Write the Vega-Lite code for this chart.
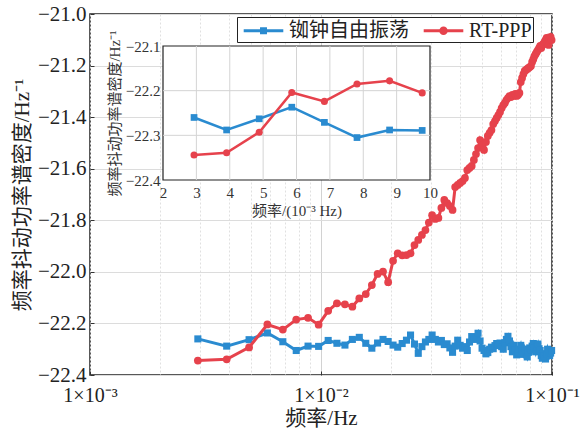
{
  "$schema": "https://vega.github.io/schema/vega-lite/v6.json",
  "width": 462,
  "height": 361,
  "autosize": {"type": "none"},
  "padding": {"left": 90, "top": 14, "right": 32, "bottom": 54},
  "background": "white",
  "config": {
    "view": {"stroke": "#222", "strokeWidth": 1.5},
    "font": "Liberation Serif"
  },
  "datasets": {
    "psd": [
      {"f": 0.00293, "s": "铷钟自由振荡", "v": -22.260},
      {"f": 0.003906, "s": "铷钟自由振荡", "v": -22.288},
      {"f": 0.004883, "s": "铷钟自由振荡", "v": -22.263},
      {"f": 0.005859, "s": "铷钟自由振荡", "v": -22.237},
      {"f": 0.006836, "s": "铷钟自由振荡", "v": -22.271},
      {"f": 0.007813, "s": "铷钟自由振荡", "v": -22.305},
      {"f": 0.008789, "s": "铷钟自由振荡", "v": -22.288},
      {"f": 0.009766, "s": "铷钟自由振荡", "v": -22.289},
      {"f": 0.010742, "s": "铷钟自由振荡", "v": -22.266},
      {"f": 0.011719, "s": "铷钟自由振荡", "v": -22.277},
      {"f": 0.012695, "s": "铷钟自由振荡", "v": -22.284},
      {"f": 0.013672, "s": "铷钟自由振荡", "v": -22.262},
      {"f": 0.014648, "s": "铷钟自由振荡", "v": -22.254},
      {"f": 0.015625, "s": "铷钟自由振荡", "v": -22.277},
      {"f": 0.016602, "s": "铷钟自由振荡", "v": -22.296},
      {"f": 0.017578, "s": "铷钟自由振荡", "v": -22.276},
      {"f": 0.018555, "s": "铷钟自由振荡", "v": -22.262},
      {"f": 0.019531, "s": "铷钟自由振荡", "v": -22.270},
      {"f": 0.020508, "s": "铷钟自由振荡", "v": -22.284},
      {"f": 0.021484, "s": "铷钟自由振荡", "v": -22.292},
      {"f": 0.022461, "s": "铷钟自由振荡", "v": -22.278},
      {"f": 0.023438, "s": "铷钟自由振荡", "v": -22.265},
      {"f": 0.024414, "s": "铷钟自由振荡", "v": -22.245},
      {"f": 0.025391, "s": "铷钟自由振荡", "v": -22.280},
      {"f": 0.026367, "s": "铷钟自由振荡", "v": -22.316},
      {"f": 0.027344, "s": "铷钟自由振荡", "v": -22.290},
      {"f": 0.02832, "s": "铷钟自由振荡", "v": -22.272},
      {"f": 0.029297, "s": "铷钟自由振荡", "v": -22.262},
      {"f": 0.030273, "s": "铷钟自由振荡", "v": -22.245},
      {"f": 0.03125, "s": "铷钟自由振荡", "v": -22.262},
      {"f": 0.032227, "s": "铷钟自由振荡", "v": -22.272},
      {"f": 0.033203, "s": "铷钟自由振荡", "v": -22.266},
      {"f": 0.03418, "s": "铷钟自由振荡", "v": -22.282},
      {"f": 0.035156, "s": "铷钟自由振荡", "v": -22.279},
      {"f": 0.036133, "s": "铷钟自由振荡", "v": -22.295},
      {"f": 0.037109, "s": "铷钟自由振荡", "v": -22.312},
      {"f": 0.038086, "s": "铷钟自由振荡", "v": -22.288},
      {"f": 0.039063, "s": "铷钟自由振荡", "v": -22.265},
      {"f": 0.040039, "s": "铷钟自由振荡", "v": -22.285},
      {"f": 0.041016, "s": "铷钟自由振荡", "v": -22.296},
      {"f": 0.041992, "s": "铷钟自由振荡", "v": -22.290},
      {"f": 0.042969, "s": "铷钟自由振荡", "v": -22.305},
      {"f": 0.043945, "s": "铷钟自由振荡", "v": -22.272},
      {"f": 0.044922, "s": "铷钟自由振荡", "v": -22.251},
      {"f": 0.045898, "s": "铷钟自由振荡", "v": -22.262},
      {"f": 0.046875, "s": "铷钟自由振荡", "v": -22.255},
      {"f": 0.047852, "s": "铷钟自由振荡", "v": -22.238},
      {"f": 0.048828, "s": "铷钟自由振荡", "v": -22.268},
      {"f": 0.049805, "s": "铷钟自由振荡", "v": -22.296},
      {"f": 0.050781, "s": "铷钟自由振荡", "v": -22.305},
      {"f": 0.051758, "s": "铷钟自由振荡", "v": -22.318},
      {"f": 0.052734, "s": "铷钟自由振荡", "v": -22.313},
      {"f": 0.053711, "s": "铷钟自由振荡", "v": -22.300},
      {"f": 0.054688, "s": "铷钟自由振荡", "v": -22.292},
      {"f": 0.055664, "s": "铷钟自由振荡", "v": -22.298},
      {"f": 0.056641, "s": "铷钟自由振荡", "v": -22.286},
      {"f": 0.057617, "s": "铷钟自由振荡", "v": -22.278},
      {"f": 0.058594, "s": "铷钟自由振荡", "v": -22.285},
      {"f": 0.05957, "s": "铷钟自由振荡", "v": -22.276},
      {"f": 0.060547, "s": "铷钟自由振荡", "v": -22.290},
      {"f": 0.061523, "s": "铷钟自由振荡", "v": -22.300},
      {"f": 0.0625, "s": "铷钟自由振荡", "v": -22.275},
      {"f": 0.063477, "s": "铷钟自由振荡", "v": -22.262},
      {"f": 0.064453, "s": "铷钟自由振荡", "v": -22.250},
      {"f": 0.06543, "s": "铷钟自由振荡", "v": -22.268},
      {"f": 0.066406, "s": "铷钟自由振荡", "v": -22.290},
      {"f": 0.067383, "s": "铷钟自由振荡", "v": -22.310},
      {"f": 0.068359, "s": "铷钟自由振荡", "v": -22.285},
      {"f": 0.069336, "s": "铷钟自由振荡", "v": -22.302},
      {"f": 0.070313, "s": "铷钟自由振荡", "v": -22.322},
      {"f": 0.071289, "s": "铷钟自由振荡", "v": -22.316},
      {"f": 0.072266, "s": "铷钟自由振荡", "v": -22.300},
      {"f": 0.073242, "s": "铷钟自由振荡", "v": -22.285},
      {"f": 0.074219, "s": "铷钟自由振荡", "v": -22.308},
      {"f": 0.075195, "s": "铷钟自由振荡", "v": -22.320},
      {"f": 0.076172, "s": "铷钟自由振荡", "v": -22.300},
      {"f": 0.077148, "s": "铷钟自由振荡", "v": -22.318},
      {"f": 0.078125, "s": "铷钟自由振荡", "v": -22.330},
      {"f": 0.079102, "s": "铷钟自由振荡", "v": -22.312},
      {"f": 0.080078, "s": "铷钟自由振荡", "v": -22.295},
      {"f": 0.081055, "s": "铷钟自由振荡", "v": -22.303},
      {"f": 0.082031, "s": "铷钟自由振荡", "v": -22.288},
      {"f": 0.083008, "s": "铷钟自由振荡", "v": -22.278},
      {"f": 0.083984, "s": "铷钟自由振荡", "v": -22.295},
      {"f": 0.084961, "s": "铷钟自由振荡", "v": -22.310},
      {"f": 0.085938, "s": "铷钟自由振荡", "v": -22.292},
      {"f": 0.086914, "s": "铷钟自由振荡", "v": -22.280},
      {"f": 0.087891, "s": "铷钟自由振荡", "v": -22.298},
      {"f": 0.088867, "s": "铷钟自由振荡", "v": -22.305},
      {"f": 0.089844, "s": "铷钟自由振荡", "v": -22.325},
      {"f": 0.09082, "s": "铷钟自由振荡", "v": -22.335},
      {"f": 0.091797, "s": "铷钟自由振荡", "v": -22.318},
      {"f": 0.092773, "s": "铷钟自由振荡", "v": -22.325},
      {"f": 0.09375, "s": "铷钟自由振荡", "v": -22.338},
      {"f": 0.094727, "s": "铷钟自由振荡", "v": -22.318},
      {"f": 0.095703, "s": "铷钟自由振荡", "v": -22.300},
      {"f": 0.09668, "s": "铷钟自由振荡", "v": -22.312},
      {"f": 0.097656, "s": "铷钟自由振荡", "v": -22.325},
      {"f": 0.098633, "s": "铷钟自由振荡", "v": -22.315},
      {"f": 0.099609, "s": "铷钟自由振荡", "v": -22.305},
      {"f": 0.00293, "s": "RT-PPP", "v": -22.344},
      {"f": 0.003906, "s": "RT-PPP", "v": -22.339},
      {"f": 0.004883, "s": "RT-PPP", "v": -22.293},
      {"f": 0.005859, "s": "RT-PPP", "v": -22.204},
      {"f": 0.006836, "s": "RT-PPP", "v": -22.224},
      {"f": 0.007813, "s": "RT-PPP", "v": -22.185},
      {"f": 0.008789, "s": "RT-PPP", "v": -22.178},
      {"f": 0.009766, "s": "RT-PPP", "v": -22.205},
      {"f": 0.010742, "s": "RT-PPP", "v": -22.151},
      {"f": 0.011719, "s": "RT-PPP", "v": -22.122},
      {"f": 0.012695, "s": "RT-PPP", "v": -22.126},
      {"f": 0.013672, "s": "RT-PPP", "v": -22.135},
      {"f": 0.014648, "s": "RT-PPP", "v": -22.103},
      {"f": 0.015625, "s": "RT-PPP", "v": -22.086},
      {"f": 0.016602, "s": "RT-PPP", "v": -22.051},
      {"f": 0.017578, "s": "RT-PPP", "v": -22.008},
      {"f": 0.018555, "s": "RT-PPP", "v": -21.999},
      {"f": 0.019531, "s": "RT-PPP", "v": -22.040},
      {"f": 0.020508, "s": "RT-PPP", "v": -21.957},
      {"f": 0.021484, "s": "RT-PPP", "v": -21.928},
      {"f": 0.022461, "s": "RT-PPP", "v": -21.936},
      {"f": 0.023438, "s": "RT-PPP", "v": -21.935},
      {"f": 0.024414, "s": "RT-PPP", "v": -21.928},
      {"f": 0.025391, "s": "RT-PPP", "v": -21.896},
      {"f": 0.026367, "s": "RT-PPP", "v": -21.876},
      {"f": 0.027344, "s": "RT-PPP", "v": -21.857},
      {"f": 0.02832, "s": "RT-PPP", "v": -21.838},
      {"f": 0.029297, "s": "RT-PPP", "v": -21.809},
      {"f": 0.030273, "s": "RT-PPP", "v": -21.780},
      {"f": 0.03125, "s": "RT-PPP", "v": -21.795},
      {"f": 0.032227, "s": "RT-PPP", "v": -21.791},
      {"f": 0.033203, "s": "RT-PPP", "v": -21.752},
      {"f": 0.03418, "s": "RT-PPP", "v": -21.721},
      {"f": 0.035156, "s": "RT-PPP", "v": -21.733},
      {"f": 0.036133, "s": "RT-PPP", "v": -21.745},
      {"f": 0.037109, "s": "RT-PPP", "v": -21.760},
      {"f": 0.038086, "s": "RT-PPP", "v": -21.671},
      {"f": 0.039063, "s": "RT-PPP", "v": -21.663},
      {"f": 0.040039, "s": "RT-PPP", "v": -21.655},
      {"f": 0.041016, "s": "RT-PPP", "v": -21.648},
      {"f": 0.041992, "s": "RT-PPP", "v": -21.636},
      {"f": 0.042969, "s": "RT-PPP", "v": -21.605},
      {"f": 0.043945, "s": "RT-PPP", "v": -21.597},
      {"f": 0.044922, "s": "RT-PPP", "v": -21.589},
      {"f": 0.045898, "s": "RT-PPP", "v": -21.566},
      {"f": 0.046875, "s": "RT-PPP", "v": -21.543},
      {"f": 0.047852, "s": "RT-PPP", "v": -21.520},
      {"f": 0.048828, "s": "RT-PPP", "v": -21.489},
      {"f": 0.049805, "s": "RT-PPP", "v": -21.508},
      {"f": 0.050781, "s": "RT-PPP", "v": -21.527},
      {"f": 0.051758, "s": "RT-PPP", "v": -21.496},
      {"f": 0.052734, "s": "RT-PPP", "v": -21.473},
      {"f": 0.053711, "s": "RT-PPP", "v": -21.461},
      {"f": 0.054688, "s": "RT-PPP", "v": -21.450},
      {"f": 0.055664, "s": "RT-PPP", "v": -21.427},
      {"f": 0.056641, "s": "RT-PPP", "v": -21.415},
      {"f": 0.057617, "s": "RT-PPP", "v": -21.403},
      {"f": 0.058594, "s": "RT-PPP", "v": -21.392},
      {"f": 0.05957, "s": "RT-PPP", "v": -21.380},
      {"f": 0.060547, "s": "RT-PPP", "v": -21.365},
      {"f": 0.061523, "s": "RT-PPP", "v": -21.353},
      {"f": 0.0625, "s": "RT-PPP", "v": -21.345},
      {"f": 0.063477, "s": "RT-PPP", "v": -21.334},
      {"f": 0.064453, "s": "RT-PPP", "v": -21.326},
      {"f": 0.06543, "s": "RT-PPP", "v": -21.318},
      {"f": 0.066406, "s": "RT-PPP", "v": -21.322},
      {"f": 0.067383, "s": "RT-PPP", "v": -21.314},
      {"f": 0.068359, "s": "RT-PPP", "v": -21.318},
      {"f": 0.069336, "s": "RT-PPP", "v": -21.310},
      {"f": 0.070313, "s": "RT-PPP", "v": -21.318},
      {"f": 0.071289, "s": "RT-PPP", "v": -21.314},
      {"f": 0.072266, "s": "RT-PPP", "v": -21.306},
      {"f": 0.073242, "s": "RT-PPP", "v": -21.264},
      {"f": 0.074219, "s": "RT-PPP", "v": -21.248},
      {"f": 0.075195, "s": "RT-PPP", "v": -21.233},
      {"f": 0.076172, "s": "RT-PPP", "v": -21.221},
      {"f": 0.077148, "s": "RT-PPP", "v": -21.217},
      {"f": 0.078125, "s": "RT-PPP", "v": -21.213},
      {"f": 0.079102, "s": "RT-PPP", "v": -21.209},
      {"f": 0.080078, "s": "RT-PPP", "v": -21.206},
      {"f": 0.081055, "s": "RT-PPP", "v": -21.202},
      {"f": 0.082031, "s": "RT-PPP", "v": -21.186},
      {"f": 0.083008, "s": "RT-PPP", "v": -21.175},
      {"f": 0.083984, "s": "RT-PPP", "v": -21.163},
      {"f": 0.084961, "s": "RT-PPP", "v": -21.155},
      {"f": 0.085938, "s": "RT-PPP", "v": -21.147},
      {"f": 0.086914, "s": "RT-PPP", "v": -21.140},
      {"f": 0.087891, "s": "RT-PPP", "v": -21.132},
      {"f": 0.088867, "s": "RT-PPP", "v": -21.124},
      {"f": 0.089844, "s": "RT-PPP", "v": -21.132},
      {"f": 0.09082, "s": "RT-PPP", "v": -21.120},
      {"f": 0.091797, "s": "RT-PPP", "v": -21.116},
      {"f": 0.092773, "s": "RT-PPP", "v": -21.109},
      {"f": 0.09375, "s": "RT-PPP", "v": -21.101},
      {"f": 0.094727, "s": "RT-PPP", "v": -21.093},
      {"f": 0.095703, "s": "RT-PPP", "v": -21.116},
      {"f": 0.09668, "s": "RT-PPP", "v": -21.120},
      {"f": 0.097656, "s": "RT-PPP", "v": -21.101},
      {"f": 0.098633, "s": "RT-PPP", "v": -21.089},
      {"f": 0.099609, "s": "RT-PPP", "v": -21.101}
    ]
  },
  "data": {"name": "psd"},
  "layer": [
    {
      "encoding": {
        "x": {
          "field": "f", "type": "quantitative",
          "scale": {"type": "log", "domain": [0.001, 0.1], "nice": false},
          "axis": {
            "orient": "bottom",
            "values": [0.001, 0.002, 0.003, 0.004, 0.005, 0.006, 0.007, 0.008, 0.009, 0.01, 0.02, 0.03, 0.04, 0.05, 0.06, 0.07, 0.08, 0.09, 0.1],
            "labelExpr": "datum.value == 0.001 ? '1×10⁻³' : datum.value == 0.01 ? '1×10⁻²' : datum.value == 0.1 ? '1×10⁻¹' : ''",
            "grid": true,
            "gridColor": {"condition": {"test": "datum.value == 0.01", "value": "#d2d2d2"}, "value": "#e0e0e0"},
            "gridDash": {"condition": {"test": "datum.value == 0.01", "value": []}, "value": [2, 2]},
            "gridWidth": 1,
            "domain": false,
            "ticks": true, "tickSize": -4, "tickColor": "#333",
            "tickOpacity": {"condition": {"test": "datum.value == 0.001 || datum.value == 0.01 || datum.value == 0.1", "value": 1}, "value": 0},
            "labelFont": "Liberation Serif", "labelFontSize": 20, "labelColor": "#222", "labelPadding": 14,
            "labelOverlap": false, "labelFlush": false, "labelBound": false,
            "title": "频率/Hz", "titleFont": "Liberation Serif, Noto Sans CJK SC", "titleFontSize": 21,
            "titleFontWeight": "normal", "titleColor": "#222", "titlePadding": 2
          }
        },
        "y": {
          "field": "v", "type": "quantitative",
          "scale": {"domain": [-22.4, -21.0], "nice": false, "zero": false},
          "axis": {
            "orient": "left",
            "values": [-22.4, -22.2, -22.0, -21.8, -21.6, -21.4, -21.2, -21.0],
            "format": ".1f",
            "grid": true, "gridColor": "#dcdcdc", "gridWidth": 1,
            "domain": false,
            "ticks": true, "tickSize": -4, "tickColor": "#333",
            "labelFont": "Liberation Serif", "labelFontSize": 21, "labelColor": "#222", "labelPadding": 8,
            "labelOverlap": false,
            "title": "频率抖动功率谱密度/Hz⁻¹", "titleFont": "Liberation Serif, Noto Sans CJK SC", "titleFontSize": 21,
            "titleFontWeight": "normal", "titleColor": "#222", "titlePadding": 5
          }
        }
      },
      "layer": [
        {"transform": [{"filter": "datum.s == '铷钟自由振荡'"}], "mark": {"type": "line", "strokeWidth": 3, "color": "#2a8bd0"}},
        {"transform": [{"filter": "datum.s == '铷钟自由振荡'"}], "mark": {"type": "point", "shape": "square", "filled": true, "size": 50, "opacity": 1, "color": "#2a8bd0"}},
        {"transform": [{"filter": "datum.s == 'RT-PPP'"}], "mark": {"type": "line", "strokeWidth": 3, "color": "#e6424c"}},
        {"transform": [{"filter": "datum.s == 'RT-PPP'"}], "mark": {"type": "point", "shape": "circle", "filled": true, "size": 60, "opacity": 1, "color": "#e6424c"}},
        {
          "mark": {"type": "point", "filled": true, "strokeWidth": 3, "opacity": 0},
          "encoding": {
            "fill": {"field": "s", "type": "nominal", "scale": {"domain": ["铷钟自由振荡", "RT-PPP"], "range": ["#2a8bd0", "#e6424c"]},
              "legend": {"title": null, "orient": "none", "legendX": 147, "legendY": 3, "direction": "horizontal", "strokeColor": "#222", "fillColor": "white", "padding": 1, "labelFont": "Liberation Serif, Noto Sans CJK SC", "labelFontSize": 20, "labelColor": "#222", "symbolSize": 484, "symbolStrokeWidth": 3, "symbolOpacity": 1, "symbolOffset": 13, "columnPadding": 8, "labelOffset": 13, "labelLimit": 300}},
            "stroke": {"field": "s", "type": "nominal", "scale": {"domain": ["铷钟自由振荡", "RT-PPP"], "range": ["#2a8bd0", "#e6424c"]}, "legend": {"title": null}},
            "shape": {"field": "s", "type": "nominal", "scale": {"domain": ["铷钟自由振荡", "RT-PPP"], "range": ["M-1.8,0H1.8M-0.18,-0.18H0.18V0.18H-0.18Z", "M-1.8,0H1.8M0.25,0A0.25,0.25 0 1,1 -0.25,0A0.25,0.25 0 1,1 0.25,0Z"]}, "legend": {"title": null}}
          }
        }
      ]
    },
    {
      "encoding": {
        "x": {
          "field": "f", "type": "quantitative",
          "scale": {"domain": [0.002, 0.01], "range": [73, 340], "nice": false, "zero": false},
          "axis": {
            "orient": "bottom", "offset": -195,
            "values": [0.002, 0.003, 0.004, 0.005, 0.006, 0.007, 0.008, 0.009, 0.01],
            "labelExpr": "'' + round(datum.value * 1000)",
            "grid": false,
            "domain": false, "ticks": false,
            "labelFont": "Liberation Serif", "labelFontSize": 15, "labelColor": "#333", "labelPadding": 5,
            "labelOverlap": false, "labelFlush": false, "labelBound": false,
            "title": "频率/(10⁻³ Hz)", "titleFont": "Liberation Serif, Noto Sans CJK SC", "titleFontSize": 15,
            "titleFontWeight": "normal", "titleColor": "#333", "titlePadding": 3,
            "zindex": 1
          }
        },
        "y": {
          "field": "v", "type": "quantitative",
          "scale": {"domain": [-22.4, -22.1], "range": [166, 32], "nice": false, "zero": false},
          "axis": {
            "orient": "left", "offset": -73,
            "values": [-22.4, -22.3, -22.2, -22.1],
            "format": ".1f",
            "grid": false,
            "domain": false, "ticks": false,
            "labelFont": "Liberation Serif", "labelFontSize": 15, "labelColor": "#333", "labelPadding": 3,
            "labelOverlap": false,
            "title": "频率抖动功率谱密度/Hz⁻¹", "titleFont": "Liberation Serif, Noto Sans CJK SC", "titleFontSize": 15,
            "titleFontWeight": "normal", "titleColor": "#333", "titlePadding": 3,
            "zindex": 1
          }
        }
      },
      "layer": [
        {
          "transform": [{"filter": "datum.s == 'RT-PPP' && datum.f < 0.003"}],
          "mark": {"type": "rect", "fill": "white", "stroke": "#222", "strokeWidth": 1.2},
          "encoding": {"x": {"datum": 0.002, "type": "quantitative"}, "x2": {"datum": 0.01}, "y": {"datum": -22.4, "type": "quantitative"}, "y2": {"datum": -22.1}}
        },
        {"transform": [{"filter": "datum.s == 'RT-PPP' && datum.f < 0.003"}], "mark": {"type": "rule", "color": "#d4d4d4", "strokeWidth": 1}, "encoding": {"x": {"datum": 0.003, "type": "quantitative"}, "y": {"datum": -22.4, "type": "quantitative"}, "y2": {"datum": -22.1}}},
        {"transform": [{"filter": "datum.s == 'RT-PPP' && datum.f < 0.003"}], "mark": {"type": "rule", "color": "#d4d4d4", "strokeWidth": 1}, "encoding": {"x": {"datum": 0.004, "type": "quantitative"}, "y": {"datum": -22.4, "type": "quantitative"}, "y2": {"datum": -22.1}}},
        {"transform": [{"filter": "datum.s == 'RT-PPP' && datum.f < 0.003"}], "mark": {"type": "rule", "color": "#d4d4d4", "strokeWidth": 1}, "encoding": {"x": {"datum": 0.005, "type": "quantitative"}, "y": {"datum": -22.4, "type": "quantitative"}, "y2": {"datum": -22.1}}},
        {"transform": [{"filter": "datum.s == 'RT-PPP' && datum.f < 0.003"}], "mark": {"type": "rule", "color": "#d4d4d4", "strokeWidth": 1}, "encoding": {"x": {"datum": 0.006, "type": "quantitative"}, "y": {"datum": -22.4, "type": "quantitative"}, "y2": {"datum": -22.1}}},
        {"transform": [{"filter": "datum.s == 'RT-PPP' && datum.f < 0.003"}], "mark": {"type": "rule", "color": "#d4d4d4", "strokeWidth": 1}, "encoding": {"x": {"datum": 0.007, "type": "quantitative"}, "y": {"datum": -22.4, "type": "quantitative"}, "y2": {"datum": -22.1}}},
        {"transform": [{"filter": "datum.s == 'RT-PPP' && datum.f < 0.003"}], "mark": {"type": "rule", "color": "#d4d4d4", "strokeWidth": 1}, "encoding": {"x": {"datum": 0.008, "type": "quantitative"}, "y": {"datum": -22.4, "type": "quantitative"}, "y2": {"datum": -22.1}}},
        {"transform": [{"filter": "datum.s == 'RT-PPP' && datum.f < 0.003"}], "mark": {"type": "rule", "color": "#d4d4d4", "strokeWidth": 1}, "encoding": {"x": {"datum": 0.009, "type": "quantitative"}, "y": {"datum": -22.4, "type": "quantitative"}, "y2": {"datum": -22.1}}},
        {"transform": [{"filter": "datum.s == 'RT-PPP' && datum.f < 0.003"}], "mark": {"type": "rule", "color": "#d4d4d4", "strokeWidth": 1}, "encoding": {"y": {"datum": -22.3, "type": "quantitative"}, "x": {"datum": 0.002, "type": "quantitative"}, "x2": {"datum": 0.01}}},
        {"transform": [{"filter": "datum.s == 'RT-PPP' && datum.f < 0.003"}], "mark": {"type": "rule", "color": "#d4d4d4", "strokeWidth": 1}, "encoding": {"y": {"datum": -22.2, "type": "quantitative"}, "x": {"datum": 0.002, "type": "quantitative"}, "x2": {"datum": 0.01}}},
        {"transform": [{"filter": "datum.f < 0.0099 && datum.s == '铷钟自由振荡'"}], "mark": {"type": "line", "strokeWidth": 2.5, "color": "#2a8bd0"}},
        {"transform": [{"filter": "datum.f < 0.0099 && datum.s == '铷钟自由振荡'"}], "mark": {"type": "point", "shape": "square", "filled": true, "size": 45, "opacity": 1, "color": "#2a8bd0"}},
        {"transform": [{"filter": "datum.f < 0.0099 && datum.s == 'RT-PPP'"}], "mark": {"type": "line", "strokeWidth": 2.5, "color": "#e6424c"}},
        {"transform": [{"filter": "datum.f < 0.0099 && datum.s == 'RT-PPP'"}], "mark": {"type": "point", "shape": "circle", "filled": true, "size": 50, "opacity": 1, "color": "#e6424c"}}
      ]
    }
  ],
  "resolve": {"scale": {"x": "independent", "y": "independent"}}
}
